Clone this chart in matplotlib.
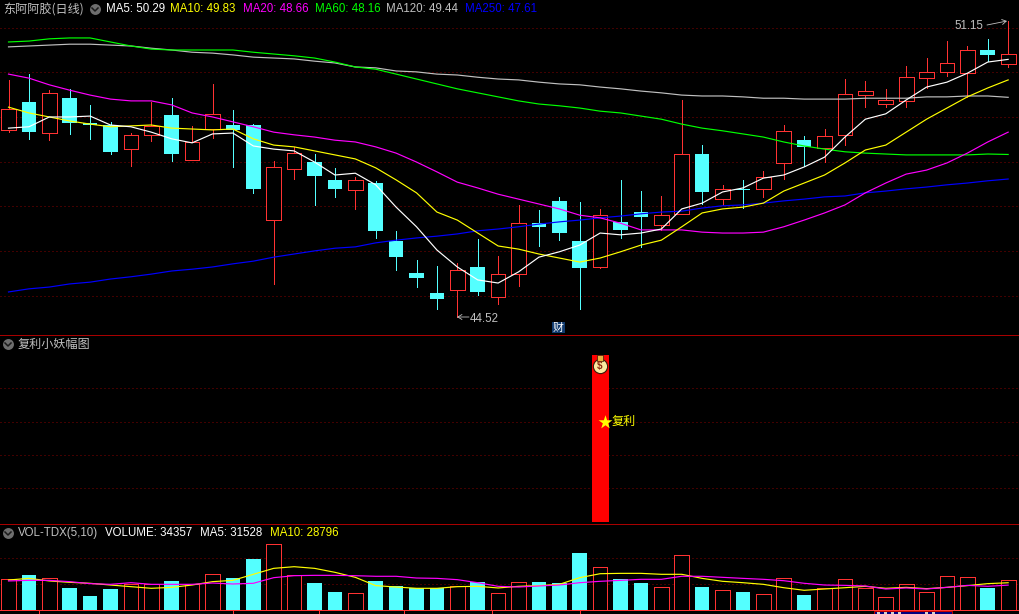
"""东阿阿胶 daily K-line screen: candles + MA, signal panel, volume panel."""
import matplotlib
matplotlib.use("Agg")
import matplotlib.pyplot as plt
import numpy as np
from matplotlib.patches import Rectangle

up = [1, 0, 1, 0, 0, 0, 1, 1, 0, 1, 1, 0, 0, 1, 1, 0, 0, 1, 0, 0, 0, 0, 1, 0, 1,
      1, 0, 0, 0, 1, 0, 0, 1, 1, 0, 1, 0, 1, 1, 0, 1, 1, 1, 1, 1, 1, 1, 1, 0, 1]
high = [49.83, 49.96, 49.60, 49.63, 49.27, 48.89, 48.64, 49.34, 49.42, 48.80,
        49.74, 49.16, 48.84, 48.01, 48.33, 48.17, 47.86, 47.66, 47.57, 46.45,
        45.80, 45.66, 45.73, 46.27, 45.89, 47.03, 46.92, 47.21, 47.10, 46.94,
        47.59, 47.34, 47.23, 49.38, 48.37, 47.48, 47.59, 47.79, 48.82, 48.57,
        48.73, 49.85, 49.81, 49.63, 50.14, 50.32, 50.70, 50.59, 50.75, 51.15]
body_top = [49.18, 49.34, 49.54, 49.42, 48.86, 48.82, 48.60, 48.80, 49.04, 48.44,
            49.07, 48.82, 48.82, 47.88, 48.19, 47.99, 47.59, 47.59, 47.52, 46.22,
            45.50, 45.06, 45.57, 45.64, 45.48, 46.62, 46.62, 47.12, 46.22, 46.80,
            46.65, 46.87, 46.80, 48.17, 48.17, 47.39, 47.39, 47.66, 48.69, 48.48,
            48.57, 49.51, 49.58, 49.38, 49.89, 50.01, 50.21, 50.50, 50.50, 50.41]
body_bottom = [48.71, 48.66, 48.64, 48.86, 48.82, 48.22, 48.28, 48.60, 48.17, 48.04,
               48.73, 48.71, 47.39, 46.69, 47.83, 47.68, 47.39, 47.36, 46.45, 45.86,
               45.39, 44.92, 45.12, 45.08, 44.97, 45.48, 46.54, 46.40, 45.62, 45.64,
               46.47, 46.76, 46.58, 46.83, 47.32, 47.16, 47.36, 47.39, 47.97, 48.33,
               48.30, 48.60, 49.49, 49.29, 49.36, 49.87, 50.01, 49.98, 50.39, 50.19]
low = [48.66, 48.51, 48.48, 48.62, 48.51, 48.17, 47.90, 48.46, 48.01, 48.04,
       48.53, 47.88, 47.30, 45.26, 47.61, 47.03, 47.21, 46.94, 46.29, 45.57,
       45.19, 44.70, 44.52, 45.01, 44.81, 45.21, 46.11, 46.24, 44.70, 45.62,
       46.29, 46.09, 46.47, 46.83, 47.05, 47.03, 46.96, 47.21, 47.61, 47.90,
       47.99, 48.37, 49.22, 49.22, 49.22, 49.65, 49.92, 49.45, 50.25, 50.12]

ma5 = [48.75, 48.78, 49.00, 49.00, 49.02, 48.82, 48.78, 48.66, 48.51, 48.42,
       48.62, 48.64, 48.35, 48.28, 48.24, 47.99, 47.70, 47.74, 47.48, 46.98,
       46.54, 46.02, 45.64, 45.35, 45.28, 45.53, 45.86, 45.98, 46.13, 46.40,
       46.36, 46.40, 46.49, 46.94, 47.07, 47.32, 47.41, 47.63, 47.70, 47.88,
       48.10, 48.55, 48.95, 49.07, 49.38, 49.67, 49.78, 49.98, 50.23, 50.29]
ma10 = [49.22, 49.09, 49.00, 48.91, 48.84, 48.78, 48.80, 48.82, 48.75, 48.73,
        48.71, 48.73, 48.51, 48.37, 48.33, 48.24, 48.15, 48.06, 47.86, 47.59,
        47.30, 46.87, 46.69, 46.40, 46.11, 46.04, 45.93, 45.84, 45.75, 45.84,
        45.98, 46.13, 46.24, 46.54, 46.85, 46.94, 46.98, 47.07, 47.34, 47.52,
        47.70, 47.97, 48.26, 48.37, 48.66, 48.95, 49.20, 49.45, 49.65, 49.83]
ma20 = [49.96, 49.87, 49.72, 49.60, 49.49, 49.40, 49.36, 49.36, 49.27, 49.09,
        49.00, 48.89, 48.78, 48.66, 48.60, 48.55, 48.48, 48.44, 48.33, 48.19,
        47.99, 47.77, 47.54, 47.41, 47.27, 47.16, 47.05, 46.94, 46.80, 46.74,
        46.62, 46.47, 46.47, 46.47, 46.42, 46.40, 46.40, 46.42, 46.54, 46.69,
        46.85, 47.03, 47.30, 47.52, 47.72, 47.81, 47.97, 48.19, 48.44, 48.66]
ma60 = [50.68, 50.70, 50.75, 50.77, 50.77, 50.68, 50.59, 50.52, 50.50, 50.50,
        50.50, 50.50, 50.45, 50.41, 50.37, 50.32, 50.23, 50.12, 50.07, 49.96,
        49.85, 49.74, 49.63, 49.54, 49.45, 49.36, 49.29, 49.25, 49.20, 49.13,
        49.09, 49.02, 48.95, 48.84, 48.75, 48.69, 48.62, 48.55, 48.44, 48.35,
        48.28, 48.22, 48.19, 48.17, 48.15, 48.15, 48.15, 48.15, 48.17, 48.16]
ma120 = [50.57, 50.59, 50.61, 50.63, 50.63, 50.61, 50.59, 50.54, 50.50, 50.45,
         50.43, 50.39, 50.34, 50.32, 50.30, 50.25, 50.21, 50.12, 50.10, 50.03,
         50.01, 49.96, 49.94, 49.89, 49.85, 49.83, 49.78, 49.74, 49.72, 49.67,
         49.63, 49.58, 49.54, 49.49, 49.47, 49.47, 49.45, 49.42, 49.42, 49.40,
         49.40, 49.40, 49.42, 49.42, 49.42, 49.45, 49.45, 49.47, 49.47, 49.44]
ma250 = [45.08, 45.15, 45.19, 45.26, 45.30, 45.37, 45.42, 45.48, 45.55, 45.59,
         45.64, 45.71, 45.77, 45.86, 45.93, 46.00, 46.06, 46.09, 46.18, 46.24,
         46.29, 46.33, 46.38, 46.45, 46.49, 46.54, 46.60, 46.65, 46.69, 46.74,
         46.78, 46.83, 46.87, 46.89, 46.96, 47.01, 47.03, 47.07, 47.12, 47.16,
         47.21, 47.23, 47.30, 47.34, 47.39, 47.43, 47.48, 47.52, 47.57, 47.61]

volume = [35900, 40500, 36600, 25500, 16200, 24300, 29700, 29700, 33600, 29700,
          41300, 37000, 59000, 76000, 40100, 31200, 20800, 19300, 33600, 27800,
          25500, 25500, 27400, 32400, 19300, 32000, 32400, 30900, 66000, 49400,
          35900, 31200, 26200, 63300, 26600, 22800, 20800, 18100, 36600, 17400,
          25100, 35500, 25100, 14700, 29700, 20400, 39000, 37800, 25500, 34357]
vol_ma5 = [34700, 36600, 33600, 32000, 30900, 28900, 27000, 25100, 26200, 28900,
           32800, 34300, 41300, 48200, 50100, 48200, 43600, 37800, 28200, 26600,
           25100, 25100, 27000, 27400, 25500, 27400, 28200, 29700, 37400, 42000,
           42400, 42400, 41300, 41300, 36600, 33200, 31600, 29700, 25800, 22800,
           24300, 25800, 27400, 25100, 26200, 24700, 26200, 28200, 30500, 31528]
vol_ma10 = [33600, 34300, 34300, 32800, 30500, 29700, 31600, 29700, 29700, 29700,
            31200, 30100, 30900, 37400, 39700, 40100, 40100, 39700, 39000, 39000,
            37000, 36600, 35100, 31600, 27400, 26600, 27800, 28900, 31600, 33200,
            34300, 35500, 35500, 39000, 39000, 37800, 36600, 35500, 33900, 30900,
            28900, 28500, 27800, 24300, 25500, 24300, 26200, 28500, 27400, 28796]

signal_day = 29
signal_value = 100
month_ticks = [1.5, 11, 15.2, 19.4, 23.7, 28]
price_grid = [45, 46, 47, 48, 49, 50, 51]
signal_grid = [20, 40, 60, 80]
volume_grid = [30000, 60000]

price_labels = [("MA5: 50.29", 106, "#ffffff"), ("MA10: 49.83", 170, "#ffff00"),
                ("MA20: 48.66", 243, "#ff00ff"), ("MA60: 48.16", 315, "#00ff00"),
                ("MA120: 49.44", 386, "#c0c0c0"), ("MA250: 47.61", 465, "#0000ff")]
volume_labels = [("VOLUME: 34357", 105, "#ffffff"), ("MA5: 31528", 200, "#ffffff"),
                 ("MA10: 28796", 270, "#ffff00")]

RED = "#ff3232"
CYAN = "#54ffff"
GRID = "#840000"
PX = 0.72  # one pixel at dpi 100

plt.rcParams["font.family"] = ["Liberation Sans", "Noto Sans CJK SC"]
cjk = ["Noto Sans CJK SC", "Liberation Sans"]

fig = plt.figure(figsize=(10.2, 6.14), dpi=100, facecolor="black")


def panel(top, bottom):
    ax = fig.add_axes([0, 1 - bottom / 614, 1, (bottom - top) / 614], facecolor="black")
    ax.set_xlim(-0.4167, 49.58)
    ax.axis("off")
    return ax


def dotted(ax, levels):
    for v in levels:
        ax.axhline(v, color=GRID, lw=PX, ls=(0, (1, 3)), antialiased=True, zorder=1)


ax1 = panel(0, 335)
ax2 = panel(335, 524)
ax3 = panel(524, 614)
ax1.set_ylim(44.116, 51.62)
ax2.set_ylim(-1.4, 112)
ax3.set_ylim(-4628, 99502)

x = np.arange(len(up))
up = np.array(up, dtype=bool)
high, low = np.array(high), np.array(low)
body_top, body_bottom = np.array(body_top), np.array(body_bottom)
volume = np.array(volume)

# price panel
dotted(ax1, price_grid)
for mask, color in ((up, RED), (~up, CYAN)):
    ax1.vlines(x[mask], low[mask], high[mask], color=color, lw=PX, antialiased=False, zorder=2)
ax1.bar(x[up], (body_top - body_bottom)[up], 0.72, bottom=body_bottom[up], facecolor="black",
        edgecolor=RED, linewidth=PX, antialiased=False, zorder=3)
ax1.bar(x[~up], (body_top - body_bottom)[~up], 0.72, bottom=body_bottom[~up], color=CYAN,
        linewidth=0, antialiased=False, zorder=3)
for vals, color in ((ma250, "#0000ff"), (ma120, "#c0c0c0"), (ma60, "#00ff00"),
                    (ma20, "#ff00ff"), (ma10, "#ffff00"), (ma5, "#ffffff")):
    ax1.plot(x, vals, color=color, lw=0.85, antialiased=True, zorder=4)

# signal panel
dotted(ax2, signal_grid)
ax2.bar([signal_day], [signal_value], 0.83, color="#ff0000", linewidth=0, antialiased=False, zorder=3)

# volume panel
dotted(ax3, volume_grid)
ax3.bar(x[up], volume[up], 0.72, facecolor="black", edgecolor=RED, linewidth=PX,
        antialiased=False, zorder=3)
ax3.bar(x[~up], volume[~up], 0.72, color=CYAN, linewidth=0, antialiased=False, zorder=3)
ax3.plot(x, vol_ma5, color="#ffff00", lw=0.85, antialiased=True, zorder=4)
ax3.plot(x, vol_ma10, color="#ff00ff", lw=0.85, antialiased=True, zorder=4)
ax3.axhline(0, color=RED, lw=PX, antialiased=False, zorder=5)
ax3.vlines(month_ticks, -4628, 0, color=RED, lw=PX, antialiased=False, zorder=5)

# pixel overlay for panel borders, headers and badges
hud = fig.add_axes([0, 0, 1, 1], facecolor="none")
hud.set_xlim(0, 1020)
hud.set_ylim(614, 0)
hud.axis("off")
for y in (335, 524):
    hud.hlines(y, 0, 1020, color="#a80000", lw=PX, antialiased=False)


def header_icon(px, py):
    hud.scatter([px], [py], s=62, color="#6e6e6e", linewidths=0, zorder=6)
    hud.plot([px - 3, px, px + 3], [py - 1, py + 2, py - 1], color="#1a1a1a", lw=1.1, zorder=7)


header_icon(95, 9)
header_icon(8, 344)
header_icon(8, 533)

hud.text(3, 10, "东阿阿胶(日线)", color="#c0c0c0", fontsize=8.7, family=cjk, va="center", ha="left")
for label, px, color in price_labels:
    hud.text(px, 9.5, label, color=color, fontsize=8.3, va="center", ha="left")
hud.text(18, 344, "复利小妖幅图", color="#c0c0c0", fontsize=8.7, family=cjk, va="center", ha="left")
hud.text(18, 533, "VOL-TDX(5,10)", color="#c0c0c0", fontsize=8.3, va="center", ha="left")
for label, px, color in volume_labels:
    hud.text(px, 533, label, color=color, fontsize=8.3, va="center", ha="left")

arrow = dict(arrowstyle="->,head_length=0.3,head_width=0.18", color="#c0c0c0", lw=0.6, shrinkA=0, shrinkB=0)
hud.text(954, 26, "51.15", color="#c0c0c0", fontsize=8.3, va="center", ha="left")
hud.annotate("", xy=(1007, 21), xytext=(987, 25), arrowprops=arrow)
hud.text(470, 319, "44.52", color="#c0c0c0", fontsize=8.3, va="center", ha="left")
hud.annotate("", xy=(457, 317), xytext=(469, 317), arrowprops=arrow)

hud.add_patch(Rectangle((552, 322), 13, 11, facecolor="#103a6e", edgecolor="none", zorder=6))
hud.text(558.5, 327.5, "财", color="#ffffff", fontsize=7.8, family=cjk, va="center", ha="center", zorder=7)

# money bag on the signal bar
hud.scatter([600], [365.5], s=105, color="#fbe9a0", edgecolors="#3a1a08", linewidths=0.8, zorder=6)
hud.scatter([600], [357.5], s=18, marker="s", color="#e8b040", edgecolors="#3a1a08", linewidths=0.5, zorder=6)
hud.text(600, 366, "$", color="#8a2a10", fontsize=7, fontweight="bold", va="center", ha="center", zorder=7)

hud.scatter([605], [421.5], s=110, marker="*", color="#ffff00", linewidths=0, zorder=6)
hud.text(612, 421, "复利", color="#ffff00", fontsize=8.7, family=cjk, va="center", ha="left", zorder=6)

# navy tab cut off by the bottom edge
hud.add_patch(Rectangle((874, 611), 78, 6, facecolor="#000080", edgecolor="#c00000", linewidth=PX, zorder=6))
hud.hlines([613] * 6, [877, 884, 891, 898, 925, 932], [880, 887, 894, 901, 928, 935],
           color="#d0d0d0", lw=PX * 1.5, antialiased=False, zorder=7)

fig.savefig("out.png", dpi=100, facecolor="black")
